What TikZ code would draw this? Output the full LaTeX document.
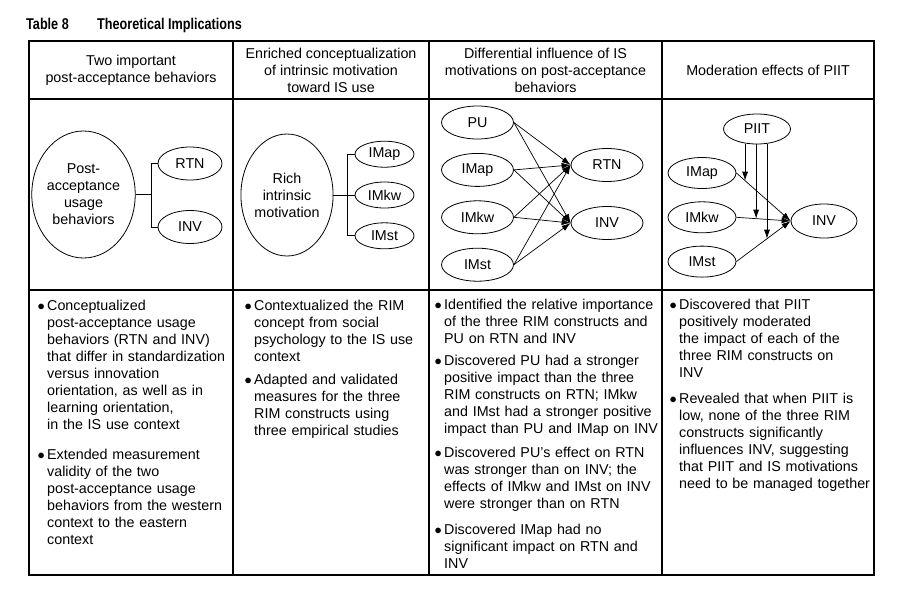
\documentclass[tikz,border=0pt]{standalone}
\usepackage{fontspec}
\setmainfont{Liberation Sans}
\newfontfamily\titlefont[FakeStretch=0.81]{Liberation Sans}
\usepackage{tikz}
\usetikzlibrary{shapes.geometric}
\usetikzlibrary{arrows.meta,positioning}
\newcommand{\bodyfont}{\fontsize{14.3}{17}\selectfont}
\newcommand{\bul}{\makebox[0pt][r]{$\bullet$\hspace{2.5pt}}}
\tikzstyle{cons node}=[ellipse, draw, line width=0.8pt, inner sep=0pt, align=center, font=\bodyfont]
\tikzstyle{small node}=[cons node, minimum width=72pt, minimum height=33pt]
\tikzstyle{head text}=[align=center, inner sep=0pt, font=\bodyfont]
\tikzstyle{item text}=[anchor=base west, text width=250pt, align=left, inner sep=0pt, font=\bodyfont]
\tikzstyle{title text}=[anchor=base west, inner sep=0pt, font=\titlefont\bfseries\fontsize{15.6}{18}\selectfont]
\tikzstyle{grid line}=[line width=1.2pt]
\tikzstyle{link}=[line width=0.8pt]
\tikzstyle{arr}=[line width=0.7pt, -{Latex[length=9pt,width=6pt]}]

\begin{document}
\begin{tikzpicture}[x=1pt, y=-1pt]
\useasboundingbox (0,0) rectangle (912,600);
%
  \node[title text] (tabno) at (26,29.5) {Table 8};
  \node[title text] (title) at (97,29.5) {Theoretical Implications};
%
  \draw[grid line] (29,41) rectangle (874,575);
  \foreach \y in {99,290} \draw[grid line] (29,\y) -- (874,\y);
  \foreach \x in {233,429,662} \draw[grid line] (\x,41) -- (\x,575);
%
  \node[head text] (h1) at (131,70) {Two important\\post-acceptance behaviors};
  \node[head text] (h2) at (331,70) {Enriched conceptualization\\of intrinsic motivation\\toward IS use};
  \node[head text] (h3) at (545.5,70) {Differential influence of IS\\motivations on post-acceptance\\behaviors};
  \node[head text] (h4) at (768,70) {Moderation effects of PIIT};
%
  \node[cons node, minimum width=85pt, minimum height=127pt] (pab) at (83.5,194.5) {Post-\\acceptance\\usage\\behaviors};
  \node[cons node, minimum width=64pt, minimum height=33pt] (RTN1) at (190,163.5) {RTN};
  \node[cons node, minimum width=64pt, minimum height=33pt] (INV1) at (190,227) {INV};
  \coordinate[right=16pt of pab.east] (br1);
  \draw[link] (pab.east) -- (br1);
  \draw[link] (RTN1.west) -| (br1) |- (INV1.west);
%
  \node[cons node, minimum width=80pt, minimum height=122pt] (rim) at (287,195) {Rich\\intrinsic\\motivation};
  \node[cons node, minimum width=59pt, minimum height=26pt] (IMkw2) at (384.5,195) {IMkw};
  \node[cons node, minimum width=59pt, minimum height=26pt] (IMap2) [above=14pt of IMkw2] {IMap};
  \node[cons node, minimum width=59pt, minimum height=26pt] (IMst2) [below=14pt of IMkw2] {IMst};
  \coordinate[right=14pt of rim.east] (br2);
  \draw[link] (rim.east) -- (IMkw2.west);
  \draw[link] (IMap2.west) -| (br2) |- (IMst2.west);
%
  \node[small node] (PU) at (477.5,122.5) {PU};
  \node[small node] (IMap3) [below=13.6pt of PU] {IMap};
  \node[small node] (IMkw3) [below=13.6pt of IMap3] {IMkw};
  \node[small node] (IMst3) [below=13.6pt of IMkw3] {IMst};
  \node[small node] (RTN3) at (607,165) {RTN};
  \node[small node] (INV3) at (607,223) {INV};
  \foreach \s in {PU,IMap3,IMkw3,IMst3}
    \foreach \t in {RTN3,INV3}
      \draw[arr] (\s.east) -- (\t.west);
%
  \node[cons node, minimum width=67pt, minimum height=30pt] (PIIT) at (757,129) {PIIT};
  \node[cons node, minimum width=68pt, minimum height=31pt] (IMap4) at (702,173) {IMap};
  \node[cons node, minimum width=68pt, minimum height=31pt] (IMkw4) [below=12.5pt of IMap4] {IMkw};
  \node[cons node, minimum width=68pt, minimum height=31pt] (IMst4) [below=12.5pt of IMkw4] {IMst};
  \node[cons node, minimum width=66pt, minimum height=34pt] (INV4) at (824,221) {INV};
  \draw[arr] (IMap4.east) -- (INV4.west) coordinate[pos=0.16] (m1);
  \draw[arr] (IMkw4.east) -- (INV4.west) coordinate[pos=0.364] (m2);
  \draw[arr] (IMst4.east) -- (INV4.west) coordinate[pos=0.564] (m3);
  \foreach \m in {m1,m2,m3}
    \draw[arr] (PIIT.south -| \m) -- (\m);
%
  \node[item text] (c1a) at (47,310) {\bul Conceptualized\\post-acceptance usage\\behaviors (RTN and INV)\\that differ in standardization\\versus innovation\\orientation, as well as in\\learning orientation,\\in the IS use context};
  \node[item text] (c1b) at (47,459) {\bul Extended measurement\\validity of the two\\post-acceptance usage\\behaviors from the western\\context to the eastern\\context};
  \node[item text] (c2a) at (254,310) {\bul Contextualized the RIM\\concept from social\\psychology to the IS use\\context};
  \node[item text] (c2b) at (254,384) {\bul Adapted and validated\\measures for the three\\RIM constructs using\\three empirical studies};
  \node[item text] (c3a) at (444,309) {\bul Identified the relative importance\\of the three RIM constructs and\\PU on RTN and INV};
  \node[item text] (c3b) at (444,365) {\bul Discovered PU had a stronger\\positive impact than the three\\RIM constructs on RTN; IMkw\\and IMst had a stronger positive\\impact than PU and IMap on INV};
  \node[item text] (c3c) at (444,457) {\bul Discovered PU's effect on RTN\\was stronger than on INV; the\\effects of IMkw and IMst on INV\\were stronger than on RTN};
  \node[item text] (c3d) at (444,534) {\bul Discovered IMap had no\\significant impact on RTN and\\INV};
  \node[item text] (c4a) at (679,309) {\bul Discovered that PIIT\\positively moderated\\the impact of each of the\\three RIM constructs on\\INV};
  \node[item text] (c4b) at (679,403) {\bul Revealed that when PIIT is\\low, none of the three RIM\\constructs significantly\\influences INV, suggesting\\that PIIT and IS motivations\\need to be managed together};
%
\end{tikzpicture}
\end{document}
